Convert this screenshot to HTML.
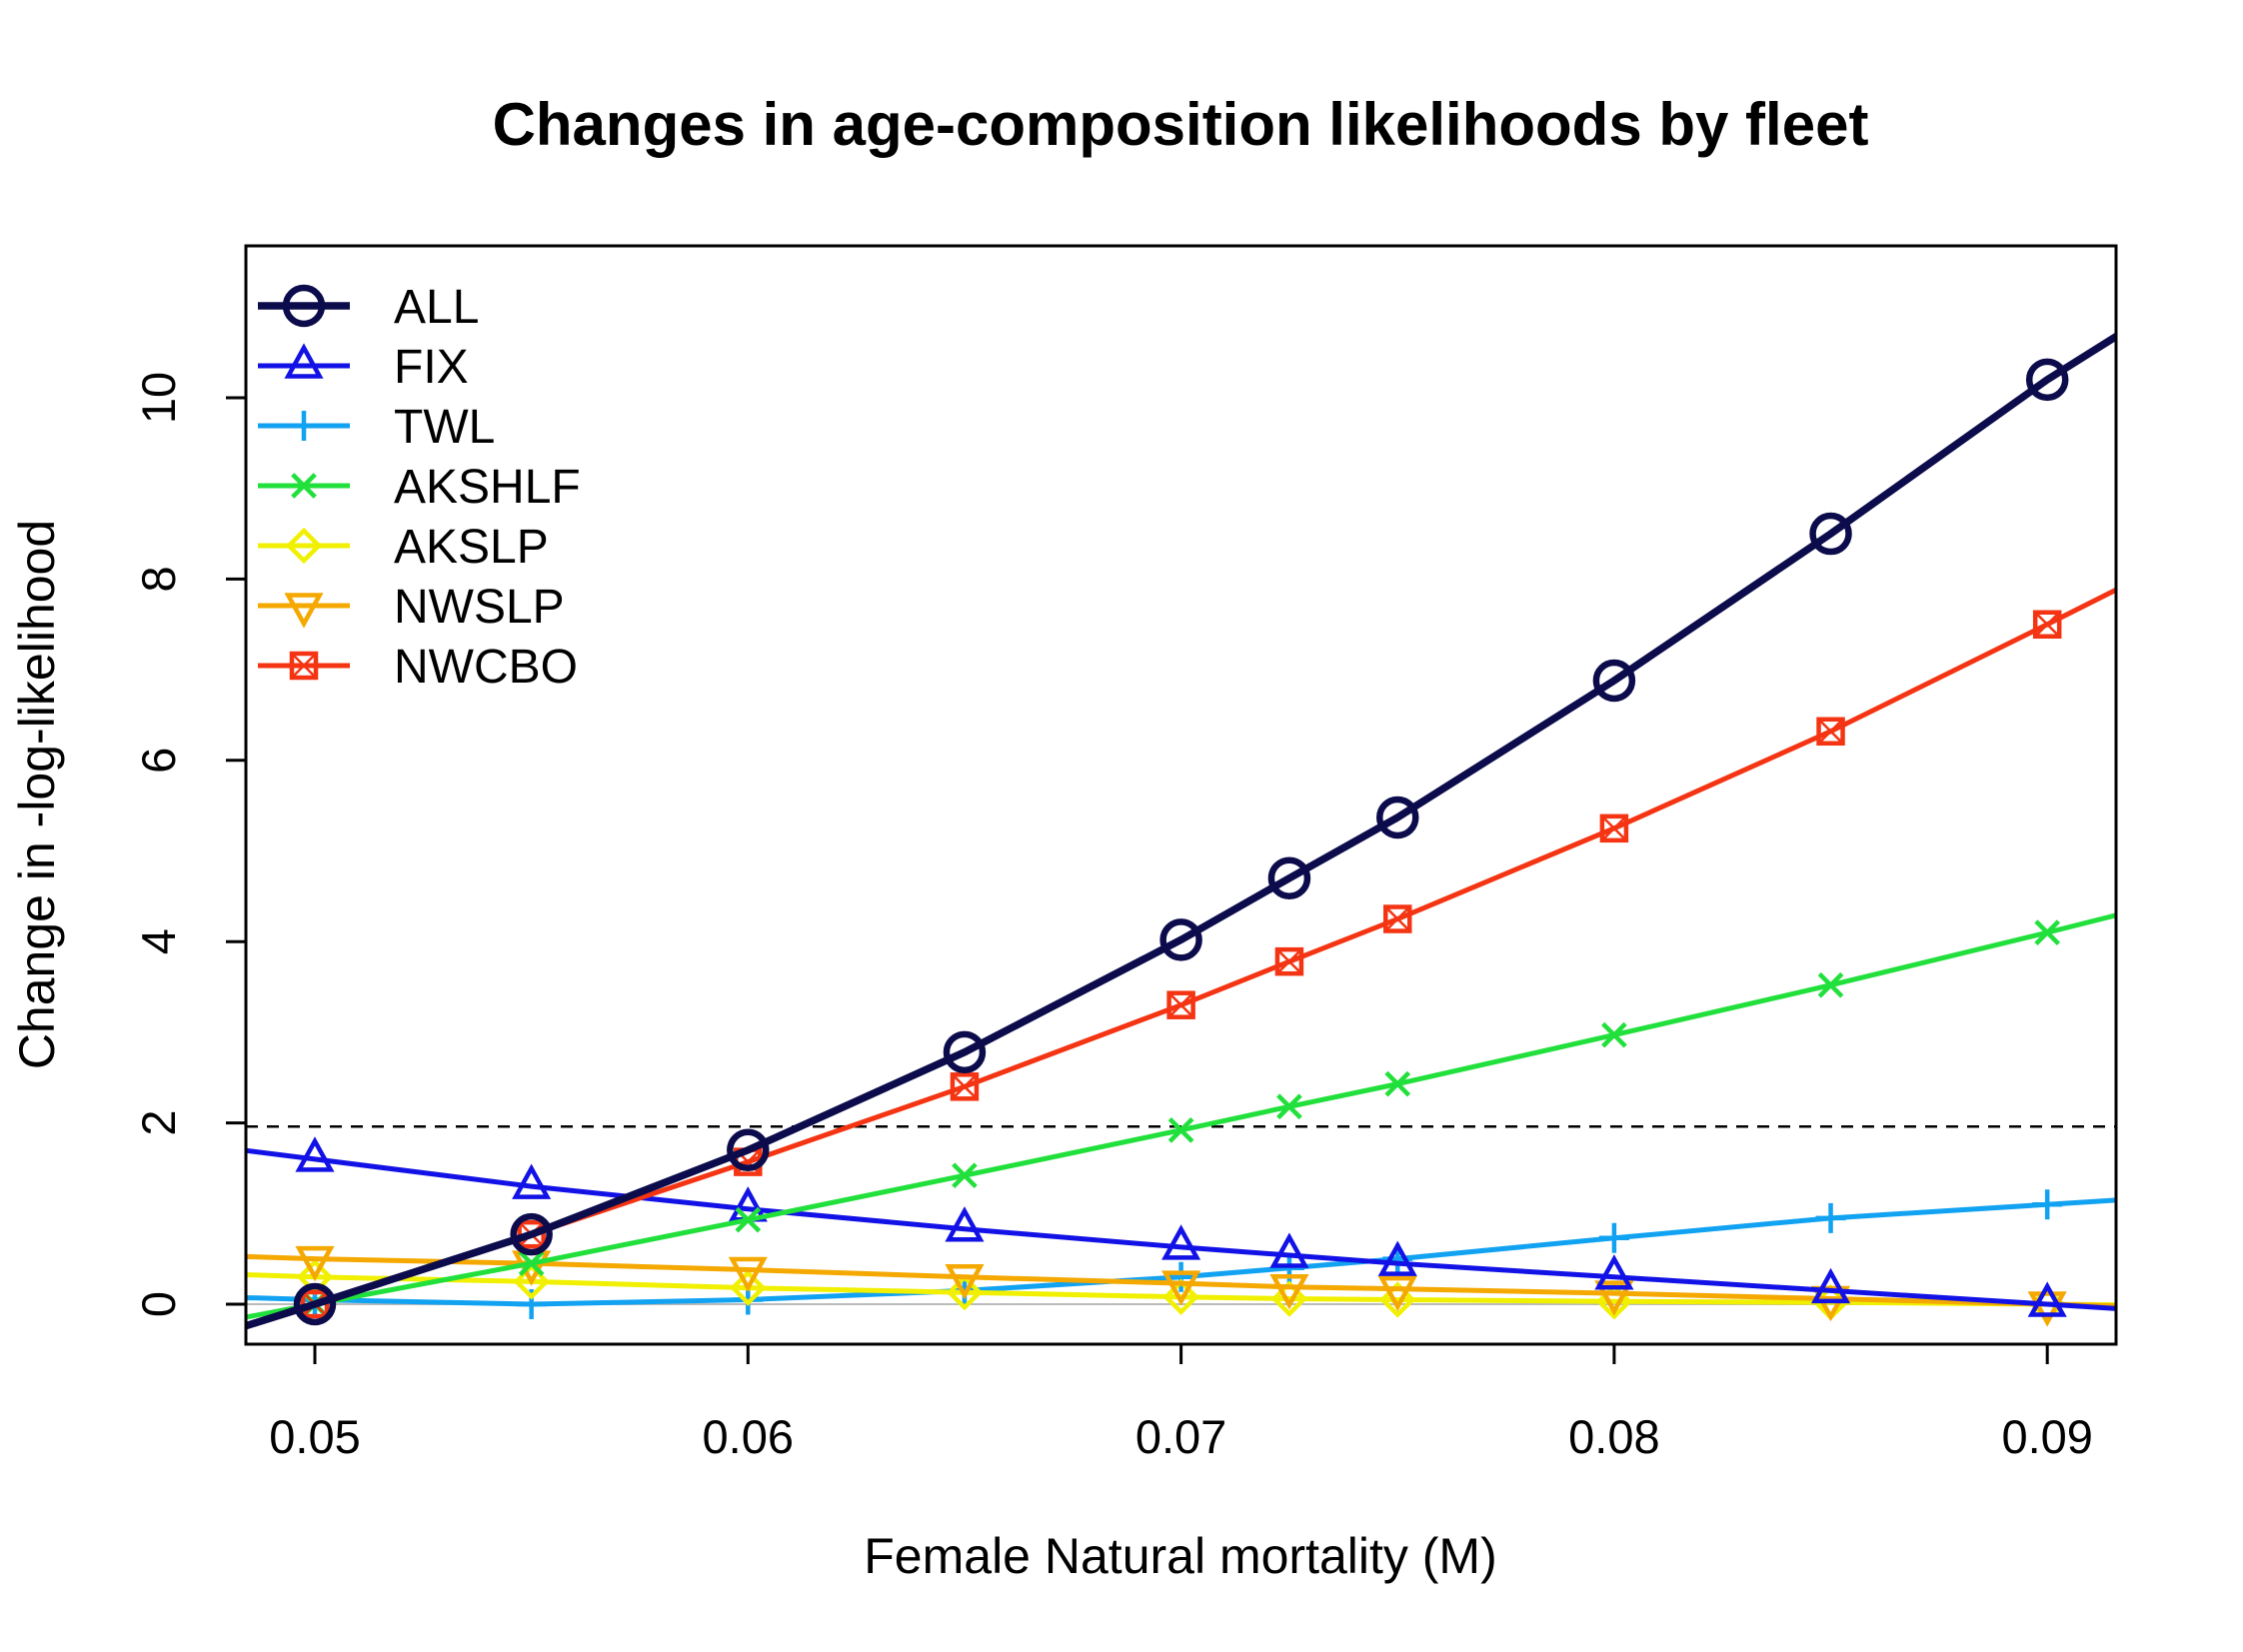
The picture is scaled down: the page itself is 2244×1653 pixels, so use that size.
<!DOCTYPE html>
<html><head><meta charset="utf-8"><style>
body{margin:0;background:#fff}
svg{display:block;font-family:"Liberation Sans",Arial,sans-serif}
</style></head><body>
<svg id="chart" width="2244" height="1653" viewBox="0 0 2244 1653" xmlns="http://www.w3.org/2000/svg">
<defs><clipPath id="pc"><rect x="246" y="246" width="1871" height="1099"/></clipPath></defs>
<rect width="2244" height="1653" fill="#fff"/>
<text x="1181" y="145" text-anchor="middle" font-size="60" font-weight="bold">Changes in age-composition likelihoods by fleet</text>
<text x="1181" y="1574" text-anchor="middle" font-size="50">Female Natural mortality (M)</text>
<text transform="translate(54,795) rotate(-90)" text-anchor="middle" font-size="50">Change in -log-likelihood</text>
<g id="axes"></g>
<g id="series" clip-path="url(#pc)"></g>
<rect x="246" y="246" width="1871" height="1099" fill="none" stroke="#000" stroke-width="3"/>
<g id="legend"></g>
</svg>
<script>
const xs=[0.045,0.05,0.055,0.06,0.065,0.07,0.0725,0.075,0.08,0.085,0.09,0.095];
const xTicks=[0.05,0.06,0.07,0.08,0.09];
const xTickLabels=["0.05","0.06","0.07","0.08","0.09"];
const yTicks=[0,2,4,6,8,10];
const seriesNames=["ALL","FIX","TWL","AKSHLF","AKSLP","NWSLP","NWCBO"];
const allVals=[-0.75,0,0.77,1.7,2.78,4.02,4.7,5.37,6.88,8.5,10.2,11.7];
const fixVals=[1.9,1.6,1.3,1.05,0.83,0.63,0.54,0.45,0.3,0.15,0.0,-0.15];
const twlVals=[0.12,0.05,0.0,0.05,0.15,0.3,0.4,0.5,0.73,0.95,1.1,1.25];
const akshlfVals=[-0.45,0,0.45,0.93,1.42,1.92,2.18,2.43,2.97,3.52,4.1,4.7];
const akslpVals=[0.38,0.3,0.25,0.18,0.13,0.08,0.06,0.05,0.03,0.02,0,-0.02];
const nwslpVals=[0.58,0.5,0.45,0.38,0.3,0.23,0.19,0.17,0.12,0.06,0,-0.06];
const nwcboVals=[-0.78,0,0.77,1.57,2.4,3.3,3.78,4.25,5.25,6.32,7.5,8.7];
const refLine=1.96;
const NS="http://www.w3.org/2000/svg";
const X=v=>315+(v-0.05)*43330;
const Y=v=>1305-v*90.7;
function mk(t,a,p){const e=document.createElementNS(NS,t);for(const k in a)e.setAttribute(k,a[k]);p.appendChild(e);return e;}
const ax=document.getElementById('axes');
xTicks.forEach((t,i)=>{
 const l=mk('line',{x1:X(t),x2:X(t),y1:1345,y2:1365,stroke:'#000','stroke-width':3},ax);
 
 
 const tx=mk('text',{x:X(t),y:1454,'text-anchor':'middle','font-size':47},ax);tx.textContent=xTickLabels[i];
 
 
});
yTicks.forEach(t=>{
 const l=mk('line',{x1:226,x2:246,y1:Y(t),y2:Y(t),stroke:'#000','stroke-width':3},ax);
 
 
 const tx=mk('text',{transform:`translate(175,${Y(t)}) rotate(-90)`,'text-anchor':'middle','font-size':47},ax);tx.textContent=t;
 
 
});
const sg=document.getElementById('series');
const zl=mk('line',{x1:246,x2:2117,y1:Y(0),y2:Y(0),stroke:'#bbb','stroke-width':2},sg);


const dl=mk('line',{x1:246,x2:2117,y1:Y(refLine),y2:Y(refLine),stroke:'#000','stroke-width':2.5,'stroke-dasharray':'12,9'},sg);


const cols=['#0c0c4c','#1212e6','#12a2f2','#22e03c','#f0f000','#f4a800','#f43412'];
const widths=[7.5,5,5,5,5,5,5];
const data=[allVals,fixVals,twlVals,akshlfVals,akslpVals,nwslpVals,nwcboVals];
function marker(i,x,y,g,sz){
 const c=cols[i],sw=i==0?6.5:4.5;
 if(i==0)mk('circle',{cx:x,cy:y,r:sz*1.2,fill:'none',stroke:c,'stroke-width':sw},g);
 else if(i==1)mk('polygon',{points:`${x},${y-sz*1.2} ${x-sz*1.05},${y+sz*0.7} ${x+sz*1.05},${y+sz*0.7}`,fill:'none',stroke:c,'stroke-width':sw},g);
 else if(i==2)mk('path',{d:`M${x-sz} ${y}H${x+sz}M${x} ${y-sz}V${y+sz}`,stroke:c,'stroke-width':sw},g);
 else if(i==3)mk('path',{d:`M${x-sz*.75} ${y-sz*.75}L${x+sz*.75} ${y+sz*.75}M${x-sz*.75} ${y+sz*.75}L${x+sz*.75} ${y-sz*.75}`,stroke:c,'stroke-width':sw},g);
 else if(i==4)mk('polygon',{points:`${x},${y-sz} ${x+sz},${y} ${x},${y+sz} ${x-sz},${y}`,fill:'none',stroke:c,'stroke-width':sw},g);
 else if(i==5)mk('polygon',{points:`${x},${y+sz*1.2} ${x-sz*1.05},${y-sz*0.7} ${x+sz*1.05},${y-sz*0.7}`,fill:'none',stroke:c,'stroke-width':sw},g);
 else {mk('rect',{x:x-sz*.8,y:y-sz*.8,width:sz*1.6,height:sz*1.6,fill:'none',stroke:c,'stroke-width':sw},g);
  mk('path',{d:`M${x-sz*.8} ${y-sz*.8}L${x+sz*.8} ${y+sz*.8}M${x-sz*.8} ${y+sz*.8}L${x+sz*.8} ${y-sz*.8}`,stroke:c,'stroke-width':2.5},g);}
}
const order=[2,4,5,1,3,6,0];
order.forEach(i=>{
 const g=mk('g',{},sg);
 
 
 mk('polyline',{points:xs.map((x,k)=>X(x)+','+Y(data[i][k])).join(' '),fill:'none',stroke:cols[i],'stroke-width':widths[i]},g);
 xs.forEach((x,k)=>{if(x>=0.05&&x<=0.09)marker(i,X(x),Y(data[i][k]),g,15);});
});
const lg=document.getElementById('legend');
seriesNames.forEach((n,i)=>{
 const y=306+i*60;
 const g=mk('g',{},lg);
 
 
 mk('line',{x1:258,x2:350,y1:y,y2:y,stroke:cols[i],'stroke-width':widths[i]},g);
 marker(i,304,y,g,15);
 const t=mk('text',{x:394,y:y+17,'font-size':48},g);t.textContent=n;
});
</script>
</body></html>
